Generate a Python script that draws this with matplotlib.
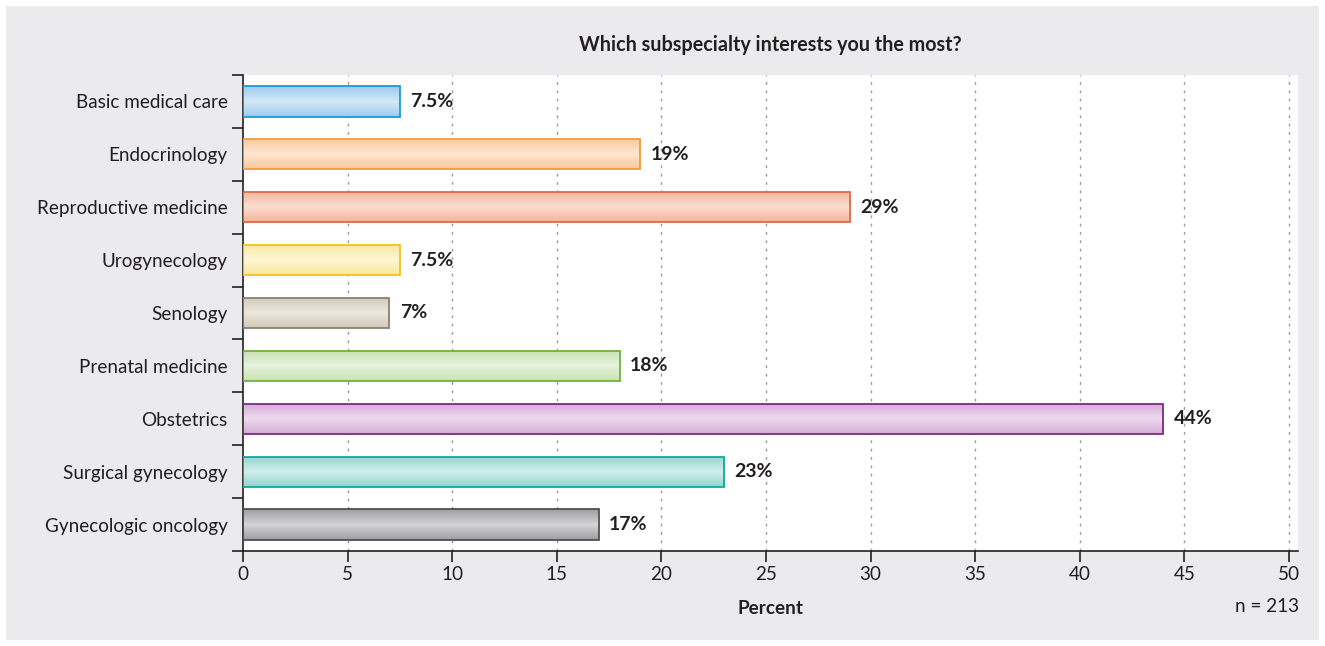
import matplotlib
matplotlib.use("Agg")
import matplotlib.pyplot as plt
import numpy as np
from matplotlib.colors import LinearSegmentedColormap
from matplotlib.patches import Rectangle

plt.rcParams['font.family'] = ['Lato', 'DejaVu Sans']

# data, top to bottom
categories = ["Basic medical care", "Endocrinology", "Reproductive medicine",
              "Urogynecology", "Senology", "Prenatal medicine", "Obstetrics",
              "Surgical gynecology", "Gynecologic oncology"]
percent = [7.5, 19, 29, 7.5, 7, 18, 44, 23, 17]
value_labels = ["7.5%", "19%", "29%", "7.5%", "7%", "18%", "44%", "23%", "17%"]
n_total = 213

# (edge, dark fill, light fill)
bar_colors = [
    ("#1a9ad6", "#9ccbee", "#d3e9f8"),
    ("#f39a3c", "#fbc99a", "#fde6d2"),
    ("#e06a45", "#f3b59c", "#fbddd0"),
    ("#f4c21c", "#fbe79c", "#fef6d6"),
    ("#8c8170", "#d2c9b8", "#ece7dd"),
    ("#6db33f", "#c9e3b3", "#e8f3de"),
    ("#7d2b80", "#d4aad6", "#eedbee"),
    ("#13a89e", "#93d4cf", "#d2eeec"),
    ("#505050", "#9e9ea0", "#d4d4d6"),
]

txt = "#231f20"
fs = 13.6

fig = plt.figure(figsize=(13.25, 6.46), dpi=100)
fig.patch.set_facecolor("white")
fig.add_artist(Rectangle((6 / 1325, 6 / 646), 1313 / 1325, 634 / 646,
                         transform=fig.transFigure, facecolor="#ebebed",
                         edgecolor="none", zorder=-10))

ax = fig.add_axes([243 / 1325, 1 - 551 / 646, (1298 - 243) / 1325, (551 - 75) / 646])
ax.set_facecolor("white")

n = len(categories)
ypos = np.arange(n)
bar_h = 0.57

for i, (val, lab) in enumerate(zip(percent, value_labels)):
    edge, dark, light = bar_colors[i]
    cmap = LinearSegmentedColormap.from_list("g%d" % i, [dark, light, dark])
    grad = np.linspace(0, 1, 64).reshape(-1, 1)
    y0 = i - bar_h / 2
    im = ax.imshow(grad, cmap=cmap, aspect="auto", extent=(0, val, y0 + bar_h, y0),
                   zorder=2, interpolation="bilinear")
    rect = Rectangle((0, y0), val, bar_h, facecolor="none", edgecolor=edge,
                     linewidth=1.3, zorder=3)
    ax.add_patch(rect)
    im.set_clip_path(rect)
    ax.text(val + 0.5, i, lab, va="center", ha="left", fontsize=14,
            fontweight="bold", color=txt)

ax.set_xlim(0, 50.43)
ax.set_ylim(n - 0.5, -0.5)

# gridlines
for xv in range(5, 55, 5):
    ax.axvline(xv, color="#9a9a9a", linestyle=(0, (2, 4)), linewidth=1, zorder=1)

ax.set_xticks(range(0, 55, 5))
ax.tick_params(axis="x", direction="out", length=8, width=1.2, labelsize=fs,
               colors=txt, pad=3)
ax.set_yticks(np.arange(-0.5, n, 1.0))
ax.set_yticklabels([])
ax.set_yticks(ypos, minor=True)
ax.set_yticklabels(categories, minor=True, fontsize=fs, color=txt)
ax.tick_params(axis="y", which="major", direction="out", length=8, width=1.2,
               colors=txt)
ax.tick_params(axis="y", which="minor", length=0, pad=11)

for side in ["top", "right"]:
    ax.spines[side].set_visible(False)
for side in ["left", "bottom"]:
    ax.spines[side].set_linewidth(1.2)
    ax.spines[side].set_color(txt)

ax.set_xlabel("Percent", fontsize=fs, fontweight="bold", color=txt, labelpad=12)
ax.set_title("Which subspecialty interests you the most?", fontsize=14.2,
             fontweight="bold", color=txt, pad=17)
fig.text(1299 / 1325, 1 - 607 / 646, "n = %d" % n_total, ha="right", va="center",
         fontsize=fs, color=txt)

fig.savefig("out.png", dpi=100, facecolor=fig.get_facecolor())
